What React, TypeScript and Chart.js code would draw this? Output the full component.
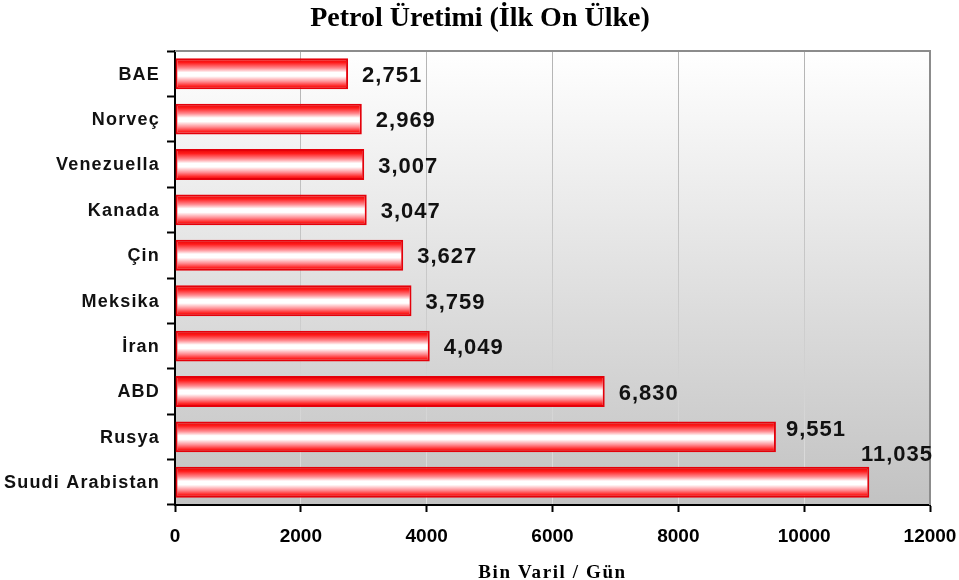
import React, { useEffect, useRef } from "react";
import { Chart, registerables } from "chart.js";

Chart.register(...registerables);

const countries = ["BAE", "Norveç", "Venezuella", "Kanada", "Çin", "Meksika", "İran", "ABD", "Rusya", "Suudi Arabistan"];
const production = [2751, 2969, 3007, 3047, 3627, 3759, 4049, 6830, 9551, 11035];
const valueLabels = ["2,751", "2,969", "3,007", "3,047", "3,627", "3,759", "4,049", "6,830", "9,551", "11,035"];
const xTicks = [0, 2000, 4000, 6000, 8000, 10000, 12000];
const chartTitle = "Petrol Üretimi (İlk On Ülke)";
const xTitle = "Bin Varil / Gün";

const BAR_PCT = 0.68;

const decorPlugin = {
  id: "decor",
  beforeDraw(chart: any) {
    const { ctx, chartArea: a } = chart;
    if (!a) return;
    ctx.save();
    const g = ctx.createLinearGradient(0, a.top, 0, a.bottom);
    g.addColorStop(0, "#ffffff");
    g.addColorStop(1, "#c2c2c2");
    ctx.fillStyle = g;
    ctx.fillRect(a.left, a.top, a.right - a.left, a.bottom - a.top);
    ctx.restore();
  },
  afterDraw(chart: any) {
    const { ctx, chartArea: a, scales } = chart;
    ctx.save();
    // top & right frame
    ctx.strokeStyle = "#8c8c8c";
    ctx.lineWidth = 2;
    ctx.beginPath();
    ctx.moveTo(a.left, a.top);
    ctx.lineTo(a.right, a.top);
    ctx.lineTo(a.right, a.bottom);
    ctx.stroke();

    // title
    ctx.fillStyle = "#000";
    ctx.textAlign = "center";
    ctx.textBaseline = "middle";
    ctx.font = "bold 28px 'Liberation Serif', 'Times New Roman', serif";
    ctx.fillText(chartTitle, 480, 19);

    // x title
    (ctx as any).letterSpacing = "1.6px";
    ctx.font = "bold 19px 'Liberation Serif', 'Times New Roman', serif";
    ctx.fillText(xTitle, (a.left + a.right) / 2, 573);

    // y category labels
    ctx.textAlign = "right";
    (ctx as any).letterSpacing = "1.2px";
    ctx.font = "bold 18px 'Liberation Sans', Arial, sans-serif";
    ctx.fillStyle = "#111";
    countries.forEach((c, i) => {
      const y = scales.y.getPixelForValue(i);
      ctx.fillText(c, a.left - 15, y + 1);
    });

    // data labels
    (ctx as any).letterSpacing = "1px";
    ctx.font = "bold 22px 'Liberation Sans', Arial, sans-serif";
    ctx.fillStyle = "#111";
    const catH = (a.bottom - a.top) / countries.length;
    production.forEach((v, i) => {
      const xEnd = scales.x.getPixelForValue(v);
      const yc = scales.y.getPixelForValue(i);
      const txt = valueLabels[i];
      const w = ctx.measureText(txt).width;
      if (xEnd + 12 + w > a.right) {
        ctx.textAlign = "right";
        ctx.fillText(txt, a.right + 3, yc - catH * 0.6);
      } else if (xEnd + 12 + w > a.right - 110) {
        ctx.textAlign = "left";
        ctx.fillText(txt, xEnd + 10, yc - 7);
      } else {
        ctx.textAlign = "left";
        ctx.fillText(txt, xEnd + 14, yc + 2);
      }
    });
    ctx.restore();
  },
};

export default function App() {
  const ref = useRef<HTMLCanvasElement | null>(null);
  useEffect(() => {
    if (!ref.current) return;
    const chart = new Chart(ref.current, {
      type: "bar",
      data: {
        labels: countries,
        datasets: [
          {
            data: production,
            borderColor: "#e4000a",
            borderWidth: 2,
            borderSkipped: false,
            barPercentage: BAR_PCT,
            categoryPercentage: 1,
            backgroundColor: (c: any) => {
              const ch = c.chart;
              const a = ch.chartArea;
              if (!a || c.type !== "data") return "#ff4050";
              const y = ch.scales.y.getPixelForValue(c.dataIndex);
              const h = ((a.bottom - a.top) / countries.length) * BAR_PCT;
              const g = ch.ctx.createLinearGradient(0, y - h / 2, 0, y + h / 2);
              g.addColorStop(0, "#e00000");
              g.addColorStop(0.14, "#ff1a1a");
              g.addColorStop(0.32, "#ff8a90");
              g.addColorStop(0.46, "#ffffff");
              g.addColorStop(0.58, "#ffffff");
              g.addColorStop(0.76, "#ff8a90");
              g.addColorStop(0.9, "#ff2222");
              g.addColorStop(1, "#e00000");
              return g;
            },
          },
        ],
      },
      options: {
        indexAxis: "y",
        animation: false,
        responsive: true,
        maintainAspectRatio: false,
        layout: { padding: { left: 0, top: 51, right: 29, bottom: 0 } },
        plugins: {
          legend: { display: false },
          title: { display: false },
          tooltip: { enabled: false },
        },
        scales: {
          x: {
            min: 0,
            max: 12000,
            afterBuildTicks: (s: any) => {
              s.ticks = xTicks.map((v) => ({ value: v }));
            },
            afterFit: (s: any) => {
              s.height = 75;
              s.paddingLeft = 0;
              s.paddingRight = 0;
            },
            ticks: {
              color: "#000",
              padding: 13,
              font: { family: "'Liberation Sans', Arial, sans-serif", size: 19, weight: "bold" },
              callback: (v: any) => String(v),
              maxRotation: 0,
            },
            grid: {
              color: (c: any) => {
                const ch = c.chart;
                const a = ch.chartArea;
                if (!a) return "#c0c0c0";
                const g = ch.ctx.createLinearGradient(0, a.top, 0, a.bottom);
                g.addColorStop(0, "#b4b4b4");
                g.addColorStop(1, "#dedede");
                return g;
              },
              lineWidth: 1,
              tickColor: "#000",
              tickLength: 7,
              tickWidth: 2,
            },
            border: { color: "#000", width: 2 },
          },
          y: {
            afterFit: (s: any) => {
              s.width = 175;
              s.paddingTop = 0;
              s.paddingBottom = 0;
            },
            ticks: { color: "transparent", font: { size: 18 } },
            grid: {
              offset: true,
              drawOnChartArea: false,
              tickColor: "#000",
              tickLength: 8,
              tickWidth: 2,
            },
            border: { color: "#000", width: 2 },
          },
        },
      } as any,
      plugins: [decorPlugin],
    });
    return () => chart.destroy();
  }, []);
  return (
    <div style={{ position: "fixed", left: 0, top: 0, width: 959, height: 580, background: "#fff" }}>
      <canvas ref={ref} />
    </div>
  );
}
